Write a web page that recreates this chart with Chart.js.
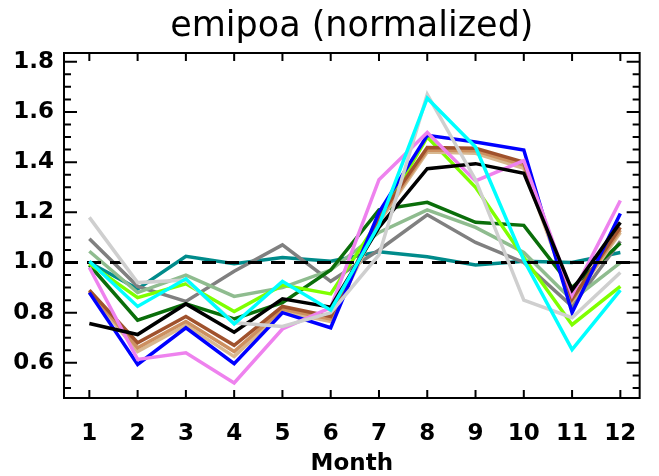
<!DOCTYPE html>
<html>
<head>
<meta charset="utf-8">
<title>emipoa (normalized)</title>
<script src="https://cdn.jsdelivr.net/npm/chart.js@4.4.0/dist/chart.umd.min.js"></script>
<style>
  html, body { margin: 0; padding: 0; background: #fff; }
</style>
</head>
<body>
<canvas id="myChart" width="659" height="476"></canvas>
<script>
// months on the x axis, tick labels on the y axis
const MONTHS = [1, 2, 3, 4, 5, 6, 7, 8, 9, 10, 11, 12];
const Y_TICKS = [0.6, 0.8, 1.0, 1.2, 1.4, 1.6, 1.8];
const X_MIN = 0.475, X_MAX = 12.4;
const Y_MIN = 0.46, Y_MAX = 1.835;
const REF_LEVEL = 1.0;

// normalized monthly emissions, one array per run
const cyanVals      = [1.005, 0.825, 0.935, 0.755, 0.925, 0.81, 1.15, 1.655, 1.46, 1.01, 0.653, 0.89];
const lightGrayVals = [1.18, 0.92, 0.93, 0.76, 0.745, 0.80, 1.03, 1.67, 1.33, 0.85, 0.78, 0.96];
const blackVals     = [0.757, 0.713, 0.835, 0.722, 0.855, 0.822, 1.14, 1.374, 1.394, 1.356, 0.89, 1.16];
const violetVals    = [0.98, 0.614, 0.64, 0.52, 0.735, 0.82, 1.33, 1.518, 1.325, 1.406, 0.87, 1.247];
const blueVals      = [0.88, 0.594, 0.74, 0.597, 0.80, 0.74, 1.20, 1.507, 1.48, 1.448, 0.80, 1.195];
const siennaVals    = [0.89, 0.68, 0.785, 0.67, 0.825, 0.785, 1.18, 1.458, 1.455, 1.40, 0.855, 1.14];
const peruVals      = [0.885, 0.66, 0.765, 0.645, 0.815, 0.775, 1.17, 1.448, 1.445, 1.388, 0.85, 1.13];
const tanVals       = [0.88, 0.645, 0.75, 0.625, 0.805, 0.765, 1.16, 1.44, 1.435, 1.375, 0.845, 1.12];
const limeVals      = [0.995, 0.86, 0.915, 0.805, 0.91, 0.875, 1.17, 1.50, 1.30, 1.02, 0.752, 0.905];
const darkGreenVals = [0.99, 0.77, 0.835, 0.775, 0.84, 0.97, 1.21, 1.24, 1.16, 1.148, 0.90, 1.077];
const seaGreenVals  = [1.045, 0.88, 0.95, 0.865, 0.90, 0.97, 1.12, 1.21, 1.14, 1.04, 0.85, 1.0];
const grayVals      = [1.095, 0.905, 0.845, 0.965, 1.07, 0.925, 1.05, 1.19, 1.08, 1.0, 0.825, 1.085];
const tealVals      = [1.0, 0.895, 1.025, 0.995, 1.02, 1.005, 1.043, 1.023, 0.99, 1.005, 1.0, 1.04];

const FONT = 'DejaVu Sans';

function series(vals, color) {
    return {
        data: MONTHS.map((m, i) => ({x: m, y: vals[i]})),
        borderColor: color,
        borderWidth: 3.5,
        pointRadius: 0,
        tension: 0,
        fill: false
    };
}

// box around the plot with inward tick marks on all four sides
const frameTicks = {
    id: 'frameTicks',
    afterDatasetsDraw(chart) {
        const {ctx, chartArea: a, scales: {x, y}} = chart;
        ctx.save();
        ctx.strokeStyle = '#000';
        ctx.lineWidth = 2;
        ctx.beginPath();
        MONTHS.forEach(m => {
            const px = x.getPixelForValue(m);
            ctx.moveTo(px, a.bottom); ctx.lineTo(px, a.bottom - 8);
            ctx.moveTo(px, a.top); ctx.lineTo(px, a.top + 8);
        });
        for (let k = Math.ceil(Y_MIN / 0.05); k * 0.05 <= Y_MAX; k++) {
            const py = y.getPixelForValue(k * 0.05);
            const len = (k % 4 === 0) ? 13 : 7;
            ctx.moveTo(a.left, py); ctx.lineTo(a.left + len, py);
            ctx.moveTo(a.right, py); ctx.lineTo(a.right - len, py);
        }
        ctx.stroke();
        ctx.strokeRect(a.left, a.top, a.right - a.left, a.bottom - a.top);
        ctx.restore();
    }
};

const CHART = document.getElementById('myChart');
const myChart = new Chart(CHART, {
    type: 'line',
    data: {
        datasets: [
            series(cyanVals, '#00ffff'),
            series(lightGrayVals, '#cfcfcf'),
            {
                data: [{x: X_MIN, y: REF_LEVEL}, {x: X_MAX, y: REF_LEVEL}],
                borderColor: '#000',
                borderWidth: 3,
                borderDash: [14, 9],
                pointRadius: 0
            },
            series(blackVals, '#000000'),
            series(violetVals, '#ee82ee'),
            series(blueVals, '#0000ff'),
            series(siennaVals, '#a0522d'),
            series(peruVals, '#cd9060'),
            series(tanVals, '#d8b890'),
            series(limeVals, '#7fff00'),
            series(darkGreenVals, '#0a6e0a'),
            series(seaGreenVals, '#8fbc8f'),
            series(grayVals, '#808080'),
            series(tealVals, '#008b8b')
        ]
    },
    options: {
        responsive: false,
        animation: false,
        layout: { padding: { left: 0, right: 1, top: 0, bottom: 0 } },
        plugins: {
            legend: { display: false },
            tooltip: { enabled: false },
            title: {
                display: true,
                fullSize: false,
                text: 'emipoa (normalized)',
                color: '#000',
                font: { family: FONT, size: 35, weight: 'normal' },
                padding: { top: 6, bottom: 5 }
            }
        },
        scales: {
            x: {
                type: 'linear',
                min: X_MIN,
                max: X_MAX,
                grid: { display: false, drawTicks: false },
                border: { display: false },
                afterBuildTicks: s => { s.ticks = MONTHS.map(v => ({value: v})); },
                afterFit: s => { s.height = 78; },
                ticks: {
                    color: '#000',
                    padding: 22,
                    maxRotation: 0,
                    autoSkip: false,
                    font: { family: FONT, size: 23, weight: 'bold' },
                    callback: v => String(v)
                },
                title: {
                    display: true,
                    text: 'Month',
                    color: '#000',
                    font: { family: FONT, size: 23, weight: 'bold', lineHeight: 1 },
                    padding: 0
                }
            },
            y: {
                min: Y_MIN,
                max: Y_MAX,
                grid: { display: false, drawTicks: false },
                border: { display: false },
                afterBuildTicks: s => { s.ticks = Y_TICKS.map(v => ({value: v})); },
                afterFit: s => { s.width = 64; },
                ticks: {
                    color: '#000',
                    padding: 10,
                    font: { family: FONT, size: 23, weight: 'bold' },
                    callback: v => v.toFixed(1)
                }
            }
        }
    },
    plugins: [frameTicks]
});
</script>
</body>
</html>
